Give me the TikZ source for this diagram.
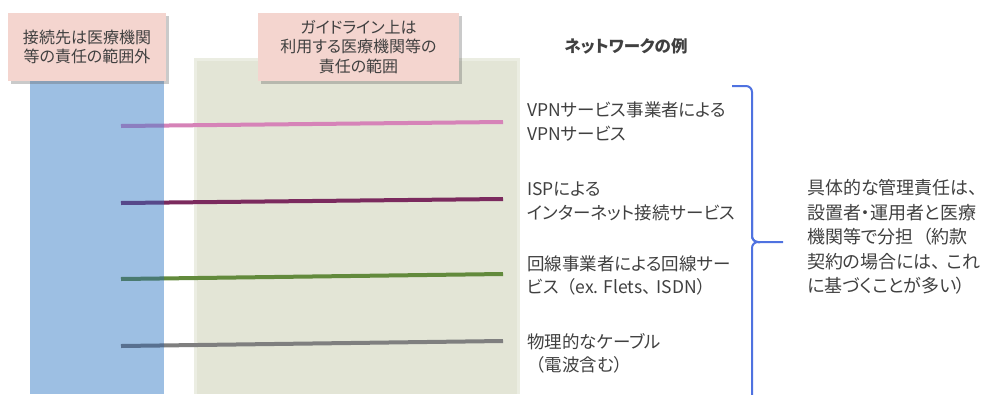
\documentclass[tikz,border=0pt]{standalone}
\usepackage{fontspec}
\setmainfont{Noto Sans CJK JP}[RawFeature=+palt]
\usetikzlibrary{shadows,calc}
\definecolor{txt}{HTML}{404040}
\definecolor{pinkbox}{HTML}{F4D5CF}
\definecolor{bluecol}{HTML}{9DBFE3}
\definecolor{greenarea}{HTML}{E3E5D6}
\definecolor{braceblue}{HTML}{4F72E0}
\definecolor{lpink}{HTML}{D683B8}
\definecolor{lpinkb}{HTML}{8C7EC0}
\definecolor{lplum}{HTML}{7B2A5E}
\definecolor{lplumb}{HTML}{57488A}
\definecolor{lgreen}{HTML}{628A3C}
\definecolor{lgreenb}{HTML}{4A7A70}
\definecolor{lgray}{HTML}{7F7F7F}
\definecolor{lgrayb}{HTML}{587090}
\tikzset{
  labelbox/.style={fill=pinkbox, minimum height=68pt, align=center, text=txt,
    inner sep=0pt, font=\fontsize{16}{19.5}\selectfont,
    drop shadow={shadow xshift=3pt, shadow yshift=-3pt, opacity=.35, fill=black!60}},
  item/.style={anchor=west, align=left, text=txt, inner sep=0pt,
    font=\fontsize{17.5}{23.5}\selectfont},
  netline/.style={line width=4pt, line cap=butt},
}
\begin{document}
\begin{tikzpicture}[x=1pt,y=-1pt]
\useasboundingbox (0,0) rectangle (987,394);
\clip (0,0) rectangle (987,394);
% areas
\fill[greenarea!70!white] (194,58) rectangle (520,394);
\fill[greenarea] (197,61) rectangle (517,394);
\fill[bluecol] (30,70) rectangle (164,394);
% network lines
\coordinate (a1) at (121,126); \coordinate (b1) at (503,122);
\coordinate (a2) at (121,203); \coordinate (b2) at (503,199);
\coordinate (a3) at (121,279); \coordinate (b3) at (503,274);
\coordinate (a4) at (121,346); \coordinate (b4) at (503,341);
\draw[netline, lpink]  ($(a1)!0.1126!(b1)$) -- (b1);
\draw[netline, lpinkb] (a1) -- ($(a1)!0.1126!(b1)$);
\draw[netline, lplum]  ($(a2)!0.1126!(b2)$) -- (b2);
\draw[netline, lplumb] (a2) -- ($(a2)!0.1126!(b2)$);
\draw[netline, lgreen]  ($(a3)!0.1126!(b3)$) -- (b3);
\draw[netline, lgreenb] (a3) -- ($(a3)!0.1126!(b3)$);
\draw[netline, lgray]  ($(a4)!0.1126!(b4)$) -- (b4);
\draw[netline, lgrayb] (a4) -- ($(a4)!0.1126!(b4)$);
% label boxes
\node[labelbox, minimum width=158pt] (lab1) at (87,47) {接続先は医療機関\\等の責任の範囲外};
\node[labelbox, minimum width=201pt] (lab2) at (358.5,47) {ガイドライン上は\\利用する医療機関等の\\責任の範囲};
% heading
\node[text=txt, font=\fontsize{16.5}{18}\selectfont\bfseries, inner sep=0pt] (head) at (626,46) {ネットワークの例};
% items
\node[item] (it1) at (527,121.5) {VPNサービス事業者による\\VPNサービス};
\node[item] (it2) at (527,201.5) {ISPによる\\インターネット接続サービス};
\node[item] (it3) at (527,275.5) {回線事業者による回線サー\\ビス\hspace{.45em}（ex. Flets、\hspace{.3em}ISDN）};
\node[item] (it4) at (527,353.5) {物理的なケーブル\\\hspace{.5em}（電波含む）};
% brace
\draw[braceblue, line width=2pt, rounded corners=6pt]
  (732,86) -- (752,86) -- (752,242) -- (783,242);
\draw[braceblue, line width=2pt, rounded corners=6pt]
  (752,200) -- (752,242) -- (760,242);
\draw[braceblue, line width=2pt, rounded corners=6pt]
  (760,242) -- (752,242) -- (752,400);
% note
\node[item, font=\fontsize{18}{24.5}\selectfont] (note) at (807,237)
  {具体的な管理責任は、\\設置者・運用者と医療\\機関等で分担\hspace{.5em}（約款\\契約の場合には、\hspace{.3em}これ\\に基づくことが多い）};
\end{tikzpicture}
\end{document}
